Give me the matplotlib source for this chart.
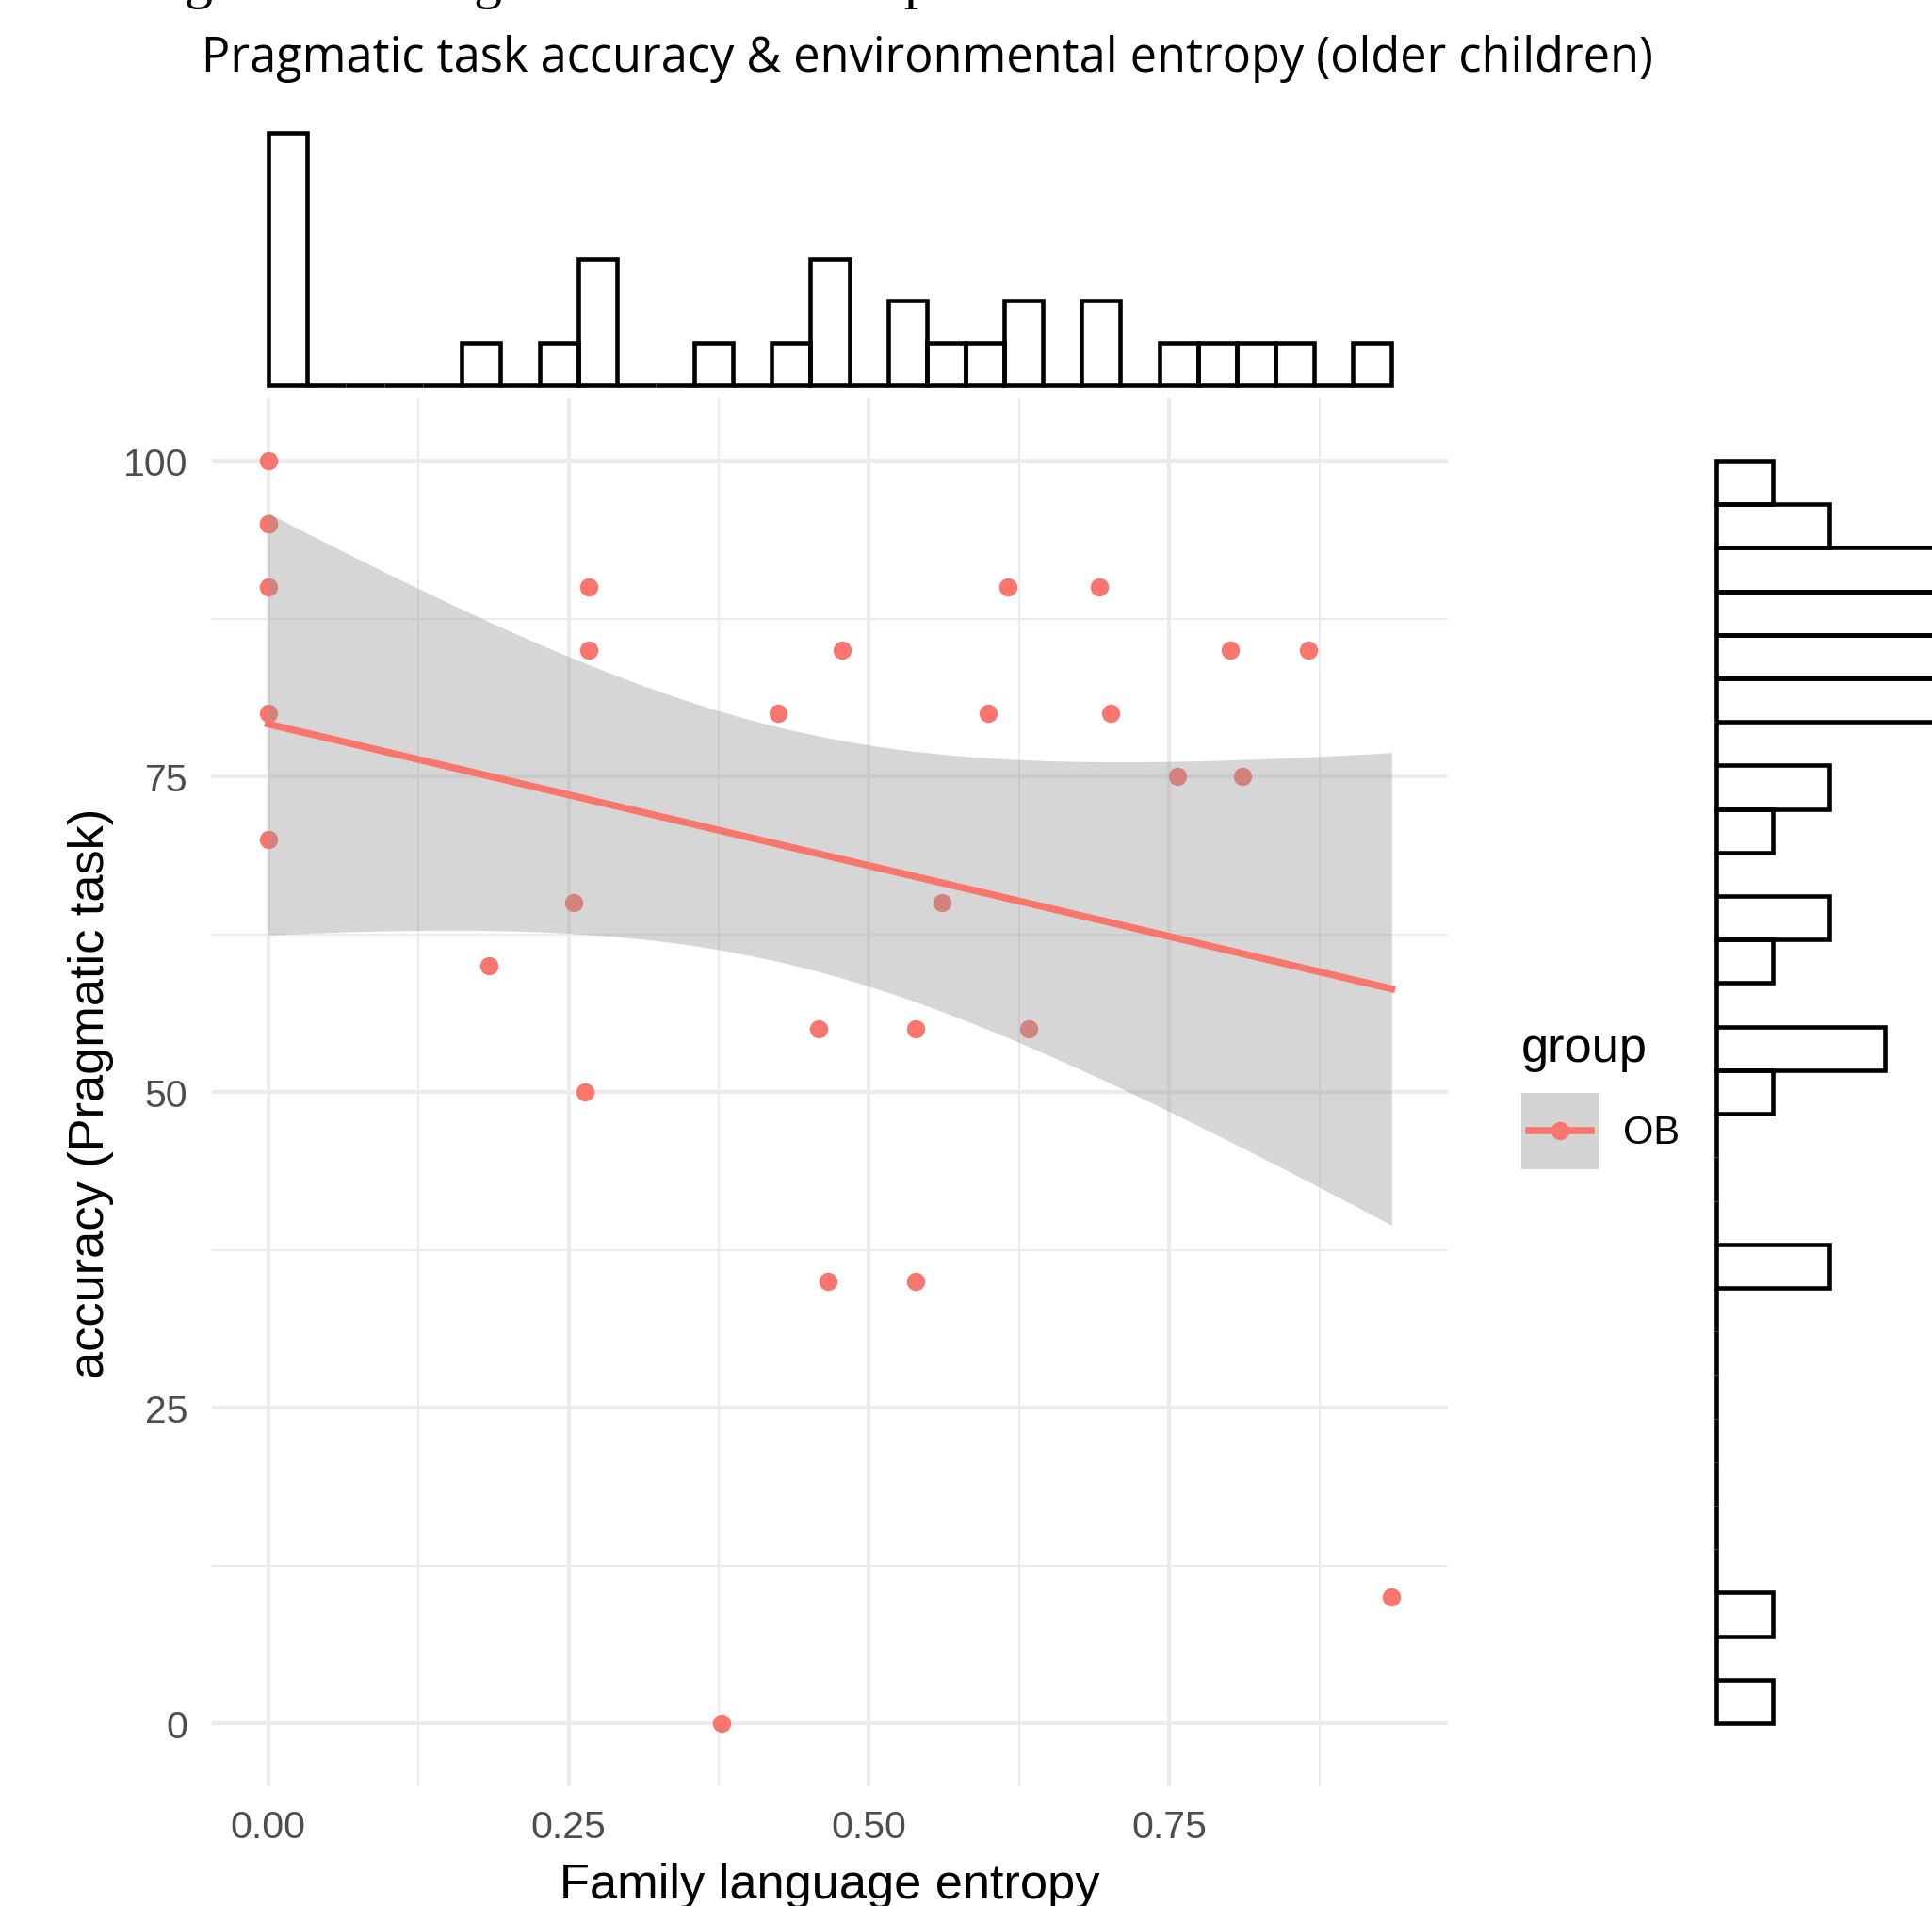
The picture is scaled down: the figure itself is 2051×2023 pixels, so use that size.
import numpy as np
import matplotlib
matplotlib.use("Agg")
import matplotlib.pyplot as plt
from matplotlib.lines import Line2D
from matplotlib.patches import Patch
from matplotlib.legend_handler import HandlerLine2D
from matplotlib.ticker import MultipleLocator

W, H = 2051, 2024

# family language entropy / pragmatic task accuracy, one entry per child
entropy = [0, 0, 0, 0, 0, 0, 0.184, 0.254, 0.264, 0.267, 0.267, 0.377, 0.424,
           0.458, 0.466, 0.478, 0.539, 0.539, 0.561, 0.599, 0.616, 0.633,
           0.692, 0.701, 0.757, 0.801, 0.811, 0.866, 0.935]
accuracy = [100, 95, 95, 90, 80, 70, 60, 65, 50, 90, 85, 0, 80,
            55, 35, 85, 55, 35, 65, 80, 90, 55,
            90, 80, 75, 85, 75, 85, 10]
# accuracy scores without an entropy value (show up only in the y margin)
accuracy_no_entropy = [88, 88, 88, 88]

group = "OB"
n_bins = 29
T_CRIT = 2.052  # t(0.975, df = 27)

RED = "#F8766D"
GRID = "#EBEBEB"


def box(x0, y0, x1, y1):
    # pixel box -> figure fraction
    return [x0 / W, 1 - y1 / H, (x1 - x0) / W, (y1 - y0) / H]


class CenteredLine(HandlerLine2D):
    """legend line centred on the grey key box"""
    def create_artists(self, legend, orig_handle, xdescent, ydescent,
                       width, height, fontsize, trans):
        arts = super().create_artists(legend, orig_handle, xdescent, ydescent,
                                      width, height, fontsize, trans)
        for a in arts:
            xd = np.linspace(-xdescent + 0.1 * width, -xdescent + 0.9 * width, 3)
            a.set_xdata(xd)
            a.set_ydata(np.full_like(xd, height / 2 - ydescent))
        return arts


x = np.array(entropy)
y = np.array(accuracy, dtype=float)

# linear fit + 95% band
slope, icpt = np.polyfit(x, y, 1)
xs = np.linspace(x.min(), x.max(), 120)
fit = icpt + slope * xs
res = y - (icpt + slope * x)
s = np.sqrt(np.sum(res ** 2) / (len(x) - 2))
se = s * np.sqrt(1 / len(x) + (xs - x.mean()) ** 2 / np.sum((x - x.mean()) ** 2))
lo, hi = fit - T_CRIT * se, fit + T_CRIT * se

xr = x.max() - x.min()
xlim = (x.min() - 0.05 * xr, x.max() + 0.05 * xr)
ylim = (-5, 105)

plt.rcParams['font.family'] = ['Liberation Sans', 'DejaVu Sans']
fig = plt.figure(figsize=(W / 100, H / 100), dpi=100)

ax = fig.add_axes(box(225, 423, 1537, 1897))
ax.set_xlim(xlim)
ax.set_ylim(ylim)
ax.set_axisbelow(True)
ax.xaxis.set_major_locator(MultipleLocator(0.25))
ax.xaxis.set_minor_locator(MultipleLocator(0.125))
ax.yaxis.set_major_locator(MultipleLocator(25))
ax.yaxis.set_minor_locator(MultipleLocator(12.5))
ax.grid(which='major', color=GRID, lw=2.9)
ax.grid(which='minor', color=GRID, lw=1.5)
for sp in ax.spines.values():
    sp.set_visible(False)
ax.tick_params(which='both', length=0, labelsize=29.5, labelcolor='#4D4D4D')
ax.tick_params(axis='x', pad=17)
ax.tick_params(axis='y', pad=18.5)
ax.xaxis.set_major_formatter(matplotlib.ticker.FormatStrFormatter('%.2f'))
ax.yaxis.set_major_formatter(matplotlib.ticker.FormatStrFormatter('%d'))

ax.scatter(x, y, s=195, color=RED, lw=0, zorder=2)
ax.fill_between(xs, lo, hi, color='#999999', alpha=0.4, lw=0, zorder=3)
ax.plot(xs, fit, color=RED, lw=5.4, zorder=4)

ax.set_xlabel("Family language entropy", fontsize=37.7, color='black')
ax.set_ylabel("accuracy (Pragmatic task)", fontsize=37.7, color='black')
ax.xaxis.set_label_coords(0.5, -(1977 - 1897) / 1474)
ax.yaxis.set_label_coords(-(225 - 121) / 1312, 0.5)

# top margin: histogram of entropy
ax_top = fig.add_axes(box(225, 141.5, 1537, 409.5))
edges_x = np.linspace(x.min(), x.max(), n_bins + 1)
cnt_x, _, bars = ax_top.hist(x, bins=edges_x, fill=False, edgecolor='black', lw=3.3)
for b in bars:
    b.set_clip_on(False)
ax_top.set_xlim(xlim)
ax_top.set_ylim(0, cnt_x.max())
ax_top.axis('off')

# right margin: histogram of accuracy
acc_all = np.concatenate([y, accuracy_no_entropy])
ax_r = fig.add_axes(box(1822.3, 423, 1822.3 + 4 * 59.6, 1897))
edges_y = np.linspace(acc_all.min(), acc_all.max(), n_bins + 1)
_, _, bars = ax_r.hist(acc_all, bins=edges_y, orientation='horizontal', fill=False,
                       edgecolor='black', lw=3.3)
for b in bars:
    b.set_clip_on(False)
ax_r.set_ylim(ylim)
ax_r.set_xlim(0, 4)
ax_r.axis('off')

# legend
key = (Patch(facecolor='#D4D4D4', edgecolor='none'),
       Line2D([], [], color=RED, lw=5.4, marker='o', markersize=14, markeredgewidth=0))
fig.legend([key], [group], title="group", loc='upper left',
           bbox_to_anchor=(1615 / W, 1 - 1089 / H), borderaxespad=0, borderpad=0,
           frameon=False, fontsize=30, title_fontsize=37.7, alignment='left',
           handlelength=1.968, handleheight=2.614, handletextpad=0.62,
           labelspacing=0.55, handler_map={Line2D: CenteredLine()})

fig.text(984 / W, 1 - 76 / H,
         "Pragmatic task accuracy & environmental entropy (older children)",
         ha='center', va='baseline', fontsize=36.4, family=['Open Sans', 'DejaVu Sans'])

# descenders of a caption line cut off above the figure
for cx, ch in [(210, 'g'), (517, 'g'), (975, 'p')]:
    fig.text(cx / W, 1 + 3 / H, ch, ha='center', va='baseline', fontsize=43,
             family=['Liberation Serif', 'DejaVu Serif'])

fig.savefig("out.png", dpi=100)
